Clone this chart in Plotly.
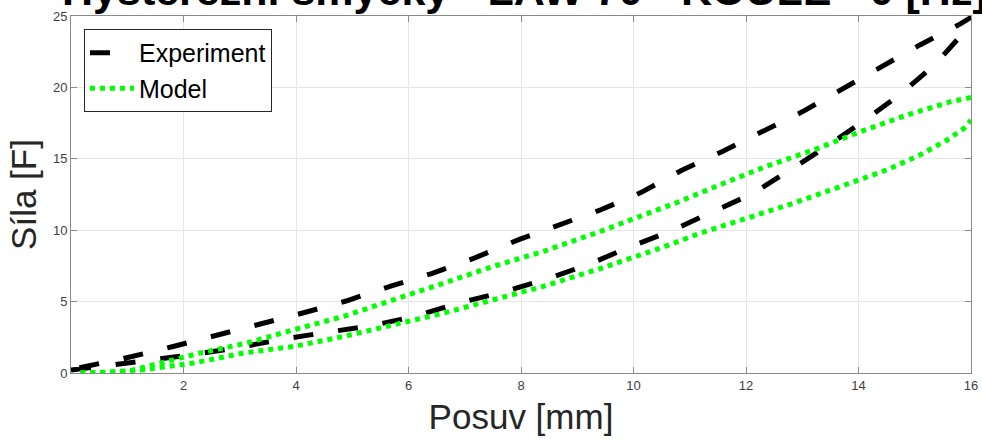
import plotly.graph_objects as go

# Experiment loop (black dashed): loading branch then unloading branch
exp_load_x = [0.0, 0.5, 1.35, 2.15, 2.96, 3.73, 4.54, 5.34, 6.11, 6.89, 7.66, 8.43, 9.2, 9.93,
              10.66, 11.37, 12.11, 12.79, 13.46, 14.12, 14.76, 15.37, 15.9, 16.0]
exp_load_y = [0.2, 0.45, 0.88, 1.28, 1.77, 2.35, 2.85, 3.31, 3.97, 4.9, 5.65, 6.54, 7.6, 8.82,
              9.94, 11.2, 12.55, 14.23, 15.93, 17.73, 19.57, 21.64, 23.98, 24.9]
exp_unload_x = [16.0, 15.81, 15.1, 14.4, 13.7, 13.0, 12.29, 11.58, 10.85, 10.14, 9.4, 8.61, 7.96,
                7.18, 6.41, 5.67, 4.89, 4.12, 3.34, 2.57, 1.8, 0.9, 0.4, 0.0]
exp_unload_y = [24.9, 24.45, 22.99, 21.4, 19.82, 18.29, 16.91, 15.51, 14.18, 12.65, 11.4, 10.27, 9.34,
                8.06, 6.96, 6.07, 5.04, 4.2, 3.38, 2.61, 1.84, 0.98, 0.55, 0.25]

# Model loop (green dotted)
mod_load_x = [0.16, 0.6, 1.29, 2.18, 3.07, 3.96, 4.85, 5.74, 6.63, 7.51, 8.4, 9.4, 10.48,
              11.19, 12.02, 12.85, 13.68, 14.51, 15.1, 15.58, 15.88, 16.0]
mod_load_y = [0.0, 0.05, 0.23, 0.7, 1.4, 1.86, 2.56, 3.38, 4.2, 5.13, 6.07, 7.3, 8.75,
              9.8, 10.85, 11.9, 13.06, 14.23, 15.28, 16.33, 17.15, 17.7]
mod_unload_x = [16.0, 15.64, 14.87, 14.04, 13.21, 12.38, 11.55, 10.78, 10.0, 9.41, 8.4, 7.51,
                6.63, 5.74, 4.85, 3.96, 3.13, 2.3, 1.58, 0.99, 0.16]
mod_unload_y = [19.3, 19.0, 18.08, 16.91, 15.63, 14.5, 13.2, 11.95, 10.8, 9.91, 8.52, 7.47,
                6.3, 5.13, 3.97, 3.03, 2.1, 1.4, 0.7, 0.1, 0.0]

x_ticks = [2, 4, 6, 8, 10, 12, 14, 16]
y_ticks = [0, 5, 10, 15, 20, 25]

FONT = "Liberation Sans, Arial, sans-serif"

fig = go.Figure()
fig.add_trace(go.Scatter(
    x=exp_load_x + exp_unload_x[1:], y=exp_load_y + exp_unload_y[1:],
    mode="lines", name="Experiment",
    line=dict(color="black", width=5, dash="20px,25px"),
))
fig.add_trace(go.Scatter(
    x=mod_load_x + [None] + mod_unload_x, y=mod_load_y + [None] + mod_unload_y,
    mode="lines", name="Model", connectgaps=False,
    line=dict(color="#00ff00", width=5, dash="5px,5px"),
))

axis_common = dict(
    showline=True, linecolor="#8a8a8a", linewidth=1, mirror="ticks",
    ticks="inside", ticklen=6, tickcolor="#8a8a8a",
    showgrid=True, gridcolor="#e6e6e6", gridwidth=1, zeroline=False,
    tickfont=dict(family=FONT, size=13, color="#404040"),
    automargin=False,
)

fig.update_layout(
    width=982, height=445,
    margin=dict(l=71, r=11, t=16, b=72, autoexpand=False),
    paper_bgcolor="white", plot_bgcolor="white",
    font=dict(family=FONT, color="#262626"),
    xaxis=dict(range=[0, 16], tickvals=x_ticks,
               title=dict(text="Posuv [mm]", font=dict(family=FONT, size=35, color="#262626"), standoff=12),
               **axis_common),
    yaxis=dict(range=[0, 25], tickvals=y_ticks,
               title=dict(text="Síla [F]", font=dict(family=FONT, size=35, color="#262626"), standoff=5),
               **axis_common),
    legend=dict(x=0.0144, y=0.9636, xanchor="left", yanchor="top",
                bgcolor="white", bordercolor="#262626", borderwidth=1,
                font=dict(family=FONT, size=25, color="black"), itemwidth=44,
                tracegroupgap=0),
    showlegend=True,
    annotations=[dict(
        text="<b>Hysterezní smyčky - LAW 70 - KOULE - 0 [Hz]</b>",
        xref="paper", yref="paper", x=0.504, y=1, xanchor="center", yanchor="bottom",
        yshift=0, showarrow=False,
        font=dict(family=FONT, size=43, color="black"),
    )],
)

fig.write_html("out.html", config={"displayModeBar": False},
               post_script="document.body.style.margin='0';")
